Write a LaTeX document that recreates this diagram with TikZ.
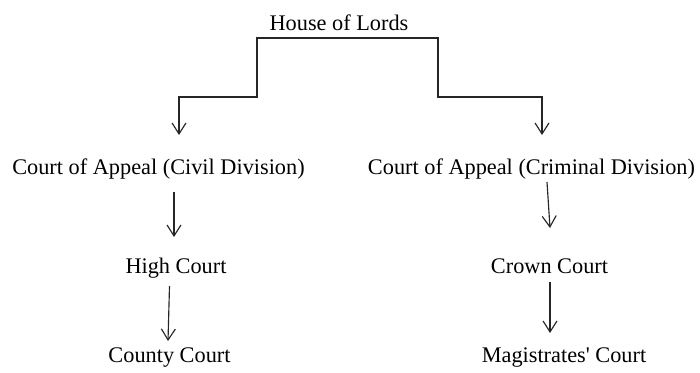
\documentclass[tikz,border=0pt]{standalone}
\usepackage{fontspec}
\setmainfont{Liberation Serif}
\usetikzlibrary{arrows.meta,calc}
\tikzset{
  lbl/.style={anchor=base,inner sep=0pt,font=\fontsize{22.3}{26}\selectfont,text=black},
  conn/.style={line width=1.15pt,draw=black!85},
  arr/.style={conn,-{Straight Barb[length=11pt,width=14pt,line width=1.15pt]}},
  arrboth/.style={conn,{Straight Barb[length=11pt,width=14pt,line width=1.15pt]}-{Straight Barb[length=11pt,width=14pt,line width=1.15pt]}}
}
\begin{document}
\begin{tikzpicture}[x=1pt,y=-1pt]
\useasboundingbox (0,0) rectangle (700,372);
\node[lbl] (hl) at (339,30) {House of Lords};
\node[lbl] (civil) at (158.5,174) {Court of Appeal (Civil Division)};
\node[lbl] (crim) at (531.5,174) {Court of Appeal (Criminal Division)};
\node[lbl] (high) at (176,273) {High Court};
\node[lbl] (crown) at (549.5,273) {Crown Court};
\node[lbl] (county) at (169.5,362) {County Court};
\node[lbl] (mag) at (564,362) {Magistrates\textquotesingle{} Court};
\draw[arrboth,line join=miter] ($(civil.base)+(20.5,-39)$) |- ($(hl.base)+(-82,67)$) |- ($(hl.base)+(99,8)$) |- ($(crim.base)+(10.5,-77)$) -- ($(crim.base)+(10.5,-39)$);
\draw[arr] ($(civil.base)+(15.5,18)$) -- ($(high.base)+(-2,-36)$);
\draw[arr] ($(high.base)+(-6.5,13)$) -- ($(county.base)+(-1.5,-21)$);
\draw[arr] ($(crim.base)+(15.5,8)$) -- ($(crown.base)+(0.5,-45)$);
\draw[arr] ($(crown.base)+(0.5,9)$) -- ($(mag.base)+(-14,-29)$);
\end{tikzpicture}
\end{document}
